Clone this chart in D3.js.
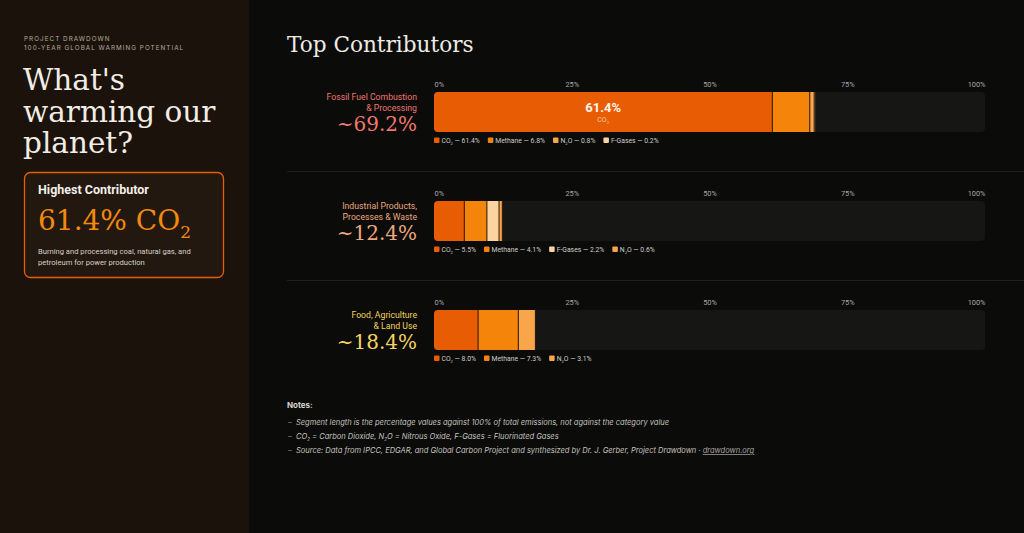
<!DOCTYPE html>
<html>
<head>
<meta charset="utf-8">
<script src="https://cdn.jsdelivr.net/npm/d3@7"></script>
<style>
  html, body { margin: 0; padding: 0; background: #0b0b0a; }
  svg { display: block; }
  .sans { font-family: Roboto, Inter, sans-serif; }
  .inter { font-family: Inter, "Noto Sans", sans-serif; }
  .serif { font-family: "DejaVu Serif", serif; }
</style>
</head>
<body>
<svg id="chart" width="1024" height="533"></svg>
<script>
// data
const categories = ["Fossil Fuel Combustion & Processing", "Industrial Products, Processes & Waste", "Food, Agriculture & Land Use"];
const categoryLines = [["Fossil Fuel Combustion", "& Processing"], ["Industrial Products,", "Processes & Waste"], ["Food, Agriculture", "& Land Use"]];
const categoryTotals = [69.2, 12.4, 18.4];
const categoryColors = ["#ef776b", "#eca77c", "#f4d35e"];

const fossilGases = ["CO2", "Methane", "N2O", "F-Gases"];
const fossilValues = [61.4, 6.8, 0.8, 0.2];
const industrialGases = ["CO2", "Methane", "F-Gases", "N2O"];
const industrialValues = [5.5, 4.1, 2.2, 0.6];
const foodGases = ["CO2", "Methane", "N2O"];
const foodValues = [8.0, 7.3, 3.1];

const tickValues = [0, 25, 50, 75, 100];

const gasColors = { "CO2": "#e85d04", "Methane": "#f5850a", "N2O": "#f9a54b", "F-Gases": "#fdd4a0" };

const rows = [
  { gases: fossilGases, values: fossilValues },
  { gases: industrialGases, values: industrialValues },
  { gases: foodGases, values: foodValues }
];

const svg = d3.select("#chart");

// left panel
svg.append("rect").attr("x", 0).attr("y", 0).attr("width", 249).attr("height", 533).attr("fill", "#1b130b");

svg.append("text").attr("class", "inter").attr("x", 24).attr("y", 41)
  .attr("font-size", 6.3).attr("letter-spacing", 1.05).attr("fill", "#b5aa9a")
  .text("PROJECT DRAWDOWN");
svg.append("text").attr("class", "inter").attr("x", 24).attr("y", 49.5)
  .attr("font-size", 6.3).attr("letter-spacing", 1.05).attr("fill", "#b5aa9a")
  .text("100-YEAR GLOBAL WARMING POTENTIAL");

const title = svg.append("text").attr("class", "serif").attr("font-size", 29.5).attr("fill", "#f1ece4");
["What's", "warming our", "planet?"].forEach((t, i) => {
  title.append("tspan").attr("x", 23).attr("y", 90 + i * 31.5).text(t);
});

// highest contributor box
svg.append("rect").attr("x", 24.5).attr("y", 172.5).attr("width", 199).attr("height", 105).attr("rx", 6)
  .attr("fill", "#22180f").attr("stroke", "#e85d04").attr("stroke-width", 1.3);
svg.append("text").attr("class", "sans").attr("x", 38).attr("y", 194)
  .attr("font-size", 12.5).attr("font-weight", 700).attr("fill", "#f3efe9")
  .text("Highest Contributor");
const big = svg.append("text").attr("class", "serif").attr("x", 38).attr("y", 230)
  .attr("font-size", 28).attr("fill", "#f28a0c");
big.append("tspan").text(fossilValues[0] + "% CO");
big.append("tspan").attr("font-size", 17).attr("dy", 8).text("2");
svg.append("text").attr("class", "sans").attr("x", 38).attr("y", 254)
  .attr("font-size", 7.6).attr("fill", "#d6d0c8")
  .text("Burning and processing coal, natural gas, and");
svg.append("text").attr("class", "sans").attr("x", 38).attr("y", 265)
  .attr("font-size", 7.6).attr("fill", "#d6d0c8")
  .text("petroleum for power production");

// right side
svg.append("text").attr("class", "serif").attr("x", 287).attr("y", 52)
  .attr("font-size", 21.6).attr("fill", "#eeeae4").text("Top Contributors");

const x = d3.scaleLinear().domain([0, 100]).range([434, 985]);
const y = d3.scalePoint().domain(categories).range([92, 310]);
const barH = 40;

// separators between rows
[171, 280].forEach(yy => {
  svg.append("line").attr("x1", 287).attr("x2", 1024).attr("y1", yy + 0.5).attr("y2", yy + 0.5)
    .attr("stroke", "#1f1f1e").attr("stroke-width", 1);
});

// writes a gas name with subscript digits
function gasText(sel, name, size) {
  const parts = name === "CO2" ? [["CO", 0], ["2", 1]] : name === "N2O" ? [["N", 0], ["2", 1], ["O", 0]] : [[name, 0]];
  let down = false;
  parts.forEach(([t, sub]) => {
    const ts = sel.append("tspan").text(t);
    if (sub) { ts.attr("font-size", size * 0.6).attr("dy", size * 0.3); down = true; }
    else if (down) { ts.attr("dy", -size * 0.3); down = false; }
  });
  return down;
}

const defs = svg.append("defs");

categories.forEach((cat, i) => {
  const top = y(cat);
  const row = rows[i];
  const g = svg.append("g");

  // axis
  const axis = d3.axisTop(x).tickValues(tickValues).tickFormat(d => d + "%").tickSize(0).tickPadding(0);
  const ag = g.append("g").attr("transform", `translate(0,${top - 5})`).call(axis);
  ag.select(".domain").remove();
  ag.selectAll("text").attr("font-size", 7.4).attr("fill", "#a9a7a3")
    .attr("font-family", "Roboto, sans-serif")
    .attr("text-anchor", d => d === 0 ? "start" : d === 100 ? "end" : "middle");

  // category label
  categoryLines[i].forEach((t, j) => {
    g.append("text").attr("class", "sans").attr("x", 417).attr("y", top + 8 + j * 11)
      .attr("text-anchor", "end").attr("font-size", 8.7).attr("fill", categoryColors[i]).text(t);
  });
  g.append("text").attr("class", "serif").attr("x", 417).attr("y", top + 38.5)
    .attr("text-anchor", "end").attr("font-size", 20).attr("fill", categoryColors[i])
    .text("~" + categoryTotals[i] + "%");

  // bar
  defs.append("clipPath").attr("id", "clip" + i)
    .append("rect").attr("x", x(0)).attr("y", top).attr("width", x(100) - x(0)).attr("height", barH).attr("rx", 4);
  const bar = g.append("g").attr("clip-path", `url(#clip${i})`);
  bar.append("rect").attr("x", x(0)).attr("y", top).attr("width", x(100) - x(0)).attr("height", barH).attr("fill", "#161615");

  let acc = 0;
  const segs = row.values.map((v, k) => { const s = { gas: row.gases[k], v, start: acc }; acc += v; return s; });
  bar.selectAll("rect.seg").data(segs).join("rect").attr("class", "seg")
    .attr("x", d => x(d.start)).attr("y", top)
    .attr("width", d => x(d.start + d.v) - x(d.start)).attr("height", barH)
    .attr("fill", d => gasColors[d.gas]);
  bar.selectAll("line.sep").data(segs).join("line").attr("class", "sep")
    .attr("x1", d => x(d.start + d.v)).attr("x2", d => x(d.start + d.v))
    .attr("y1", top).attr("y2", top + barH)
    .attr("stroke", "#2a1806").attr("stroke-width", 1);

  // in-bar label for the dominant segment
  const biggest = segs[0];
  if (x(biggest.v) - x(0) > 80) {
    const cx = (x(biggest.start) + x(biggest.start + biggest.v)) / 2;
    g.append("text").attr("class", "sans").attr("x", cx).attr("y", top + 20)
      .attr("text-anchor", "middle").attr("font-size", 13).attr("font-weight", 700).attr("fill", "#fff5ec")
      .text(biggest.v + "%");
    const sub = g.append("text").attr("class", "sans").attr("x", cx).attr("y", top + 30)
      .attr("text-anchor", "middle").attr("font-size", 7).attr("fill", "#fbc79a");
    gasText(sub, biggest.gas, 7);
  }

  // legend
  let lx = x(0);
  const ly = top + barH + 11;
  segs.forEach(s => {
    g.append("rect").attr("x", lx).attr("y", ly - 5.5).attr("width", 5.5).attr("height", 5.5).attr("rx", 1)
      .attr("fill", gasColors[s.gas]);
    const t = g.append("text").attr("class", "sans").attr("x", lx + 7.5).attr("y", ly)
      .attr("font-size", 6.8).attr("fill", "#cfccc7");
    const down = gasText(t, s.gas, 6.8);
    const rest = t.append("tspan").text(" \u2014 " + s.v.toFixed(1) + "%");
    if (down) rest.attr("dy", -6.8 * 0.3);
    lx += 7.5 + t.node().getComputedTextLength() + 8;
  });
});

// notes
svg.append("text").attr("class", "inter").attr("x", 287).attr("y", 408)
  .attr("font-size", 8).attr("font-weight", 700).attr("fill", "#d8d5d0").text("Notes:");
const noteY = [425, 439, 453];
noteY.forEach(yy => {
  svg.append("text").attr("class", "inter").attr("x", 288).attr("y", yy)
    .attr("font-size", 7.5).attr("fill", "#8d8a86").text("\u2013");
});
svg.append("text").attr("class", "inter").attr("x", 296).attr("y", noteY[0])
  .attr("font-size", 7.5).attr("font-style", "italic").attr("fill", "#c6c3be")
  .text("Segment length is the percentage values against 100% of total emissions, not against the category value");
const n2 = svg.append("text").attr("class", "inter").attr("x", 296).attr("y", noteY[1])
  .attr("font-size", 7.5).attr("font-style", "italic").attr("fill", "#c6c3be");
gasText(n2, "CO2", 7.5);
n2.append("tspan").attr("dy", -7.5 * 0.3).text(" = Carbon Dioxide, ");
gasText(n2, "N2O", 7.5);
n2.append("tspan").text(" = Nitrous Oxide, F-Gases = Fluorinated Gases");
const n3 = svg.append("text").attr("class", "inter").attr("x", 296).attr("y", noteY[2])
  .attr("font-size", 7.5).attr("font-style", "italic").attr("fill", "#c6c3be");
n3.append("tspan").text("Source: Data from IPCC, EDGAR, and Global Carbon Project and synthesized by Dr. J. Gerber, Project Drawdown \u00b7 ");
n3.append("tspan").attr("text-decoration", "underline").attr("fill", "#a9a6a1").text("drawdown.org");
</script>
</body>
</html>
